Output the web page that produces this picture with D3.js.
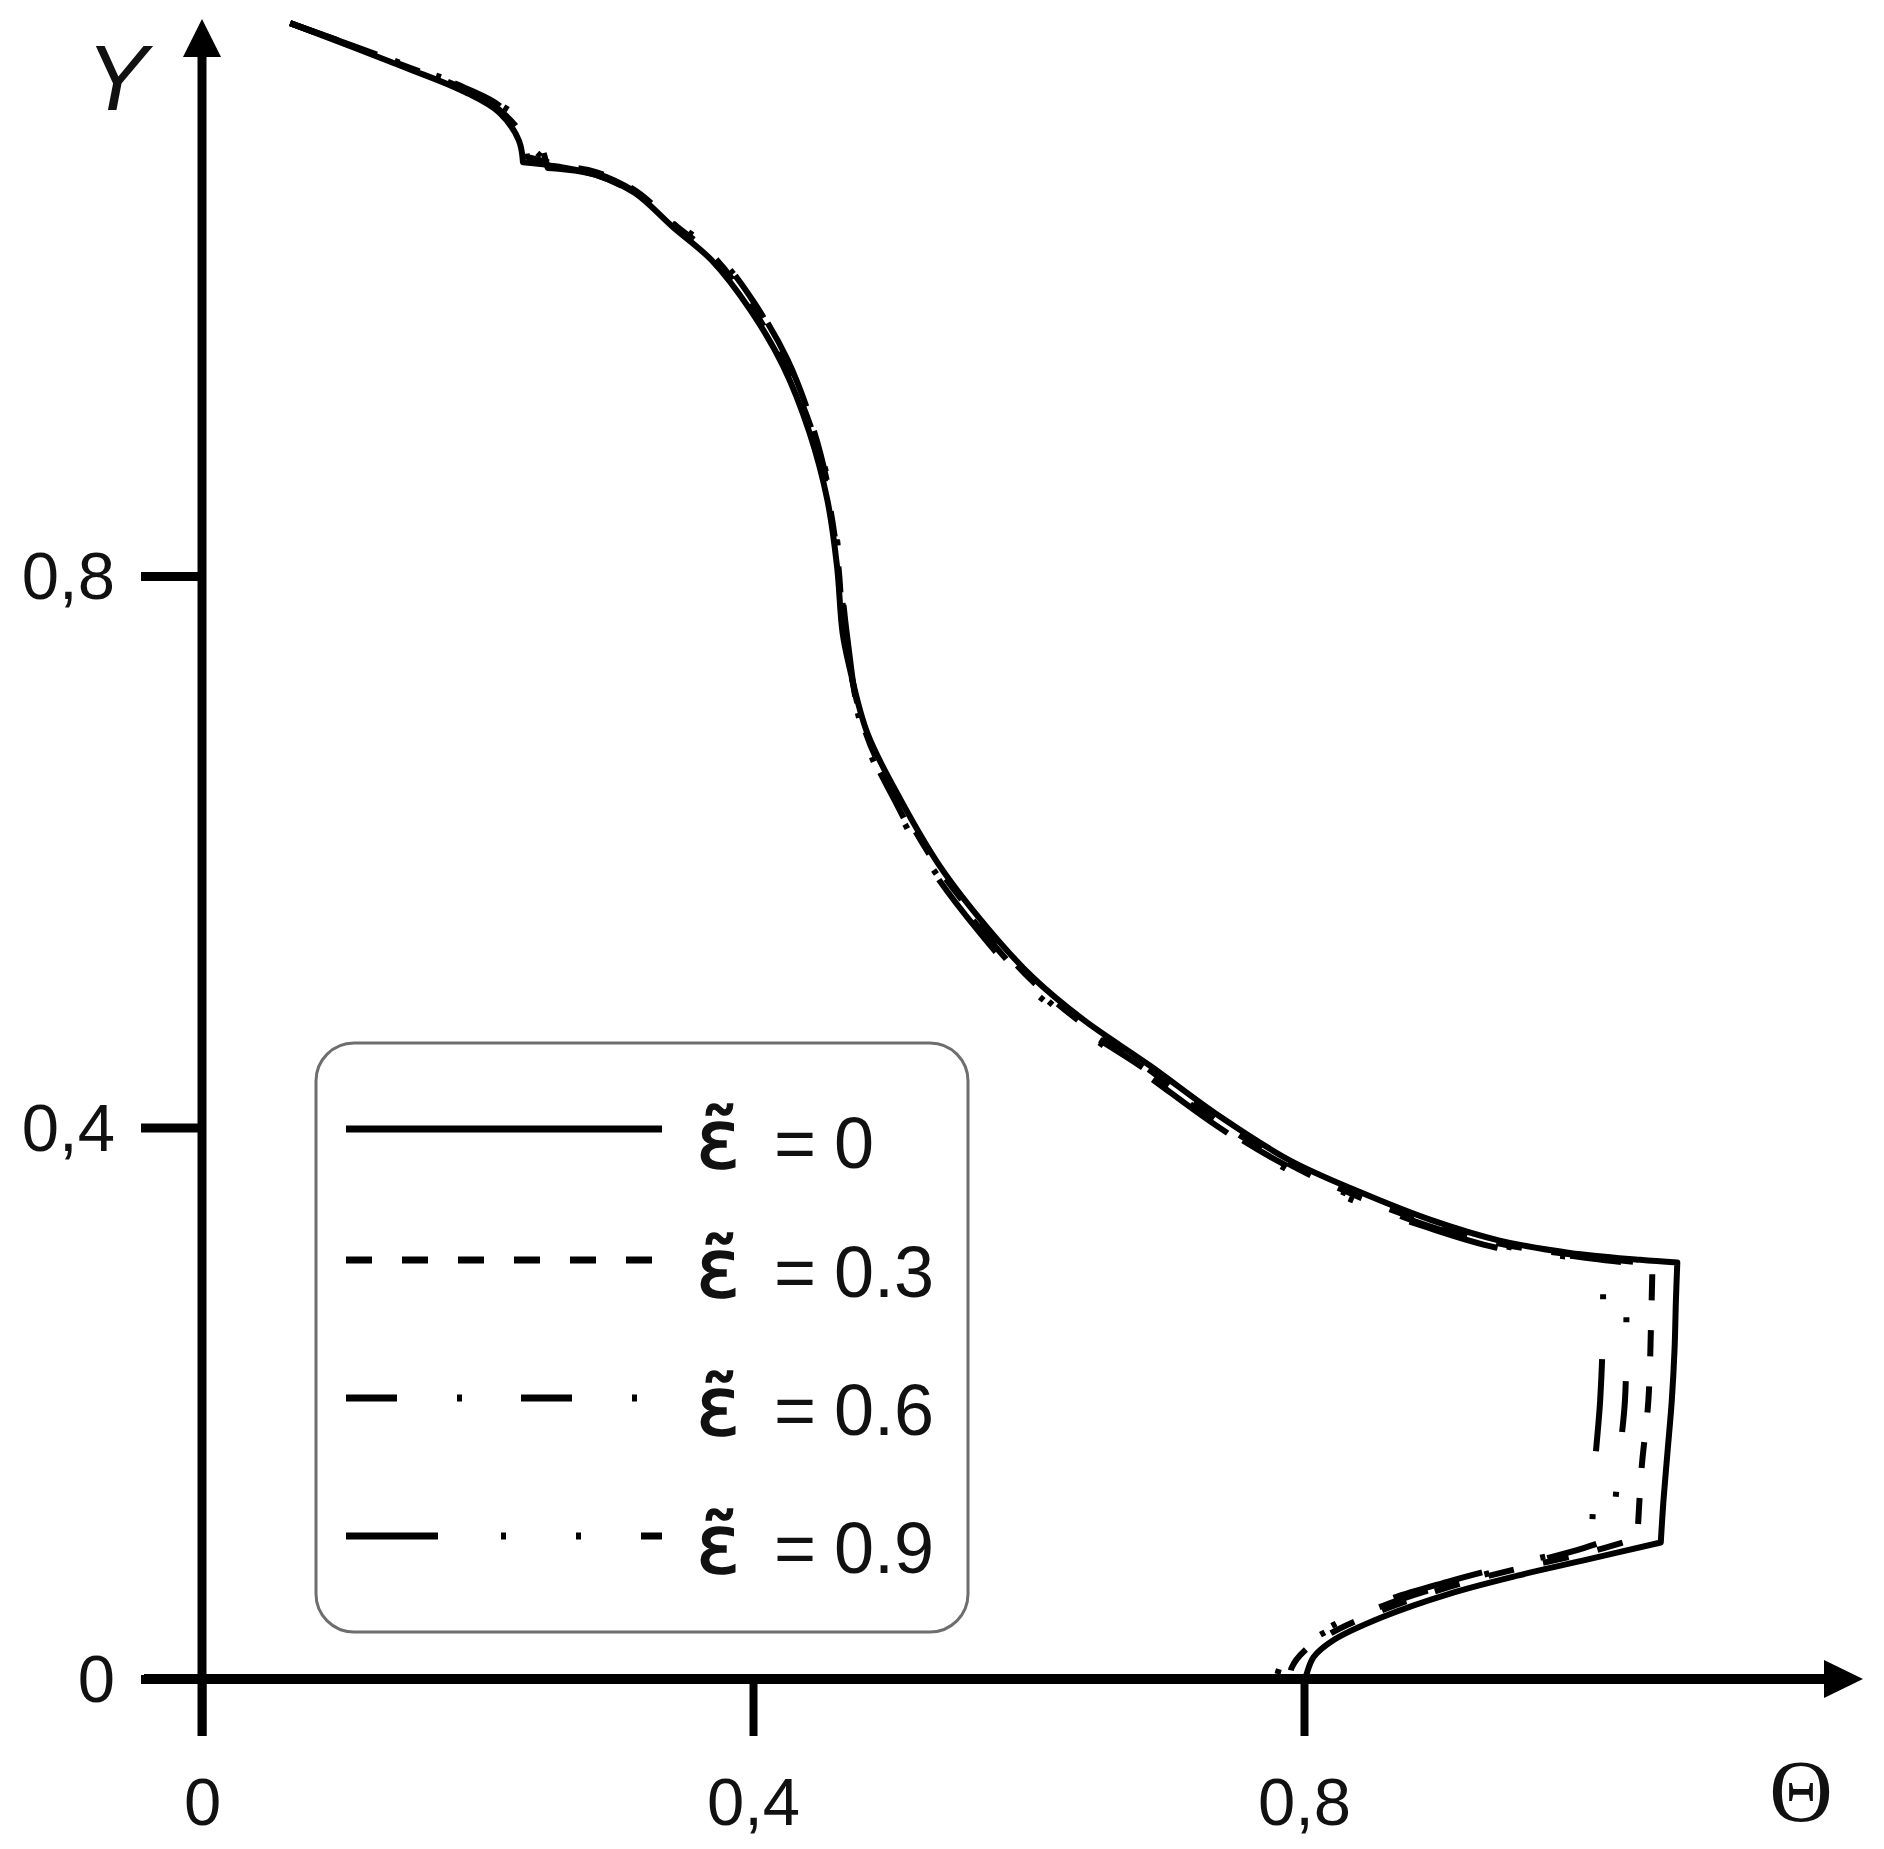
<!DOCTYPE html>
<html><head><meta charset="utf-8">
<script src="https://cdn.jsdelivr.net/npm/d3@7"></script>
<style>body{margin:0;background:#fff}</style>
</head><body>
<svg id="c" width="1884" height="1849"></svg>
<script>
// ---- data ----
const xTicks = [0, 0.4, 0.8];
const xTickLabels = ["0", "0,4", "0,8"];
const yTicks = [0, 0.4, 0.8];
const yTickLabels = ["0", "0,4", "0,8"];
const seriesNames = ["0", "0.3", "0.6", "0.9"];

// [Theta, Y] points
const eps00 = [[0.064,1.201],[0.147,1.169],[0.191,1.151],[0.216,1.136],[0.230,1.116],[0.233,1.100],
 [0.258,1.097],[0.286,1.091],[0.314,1.078],[0.342,1.053],[0.370,1.029],[0.398,0.993],[0.422,0.952],
 [0.441,0.904],[0.454,0.855],[0.461,0.807],[0.465,0.759],[0.470,0.734],[0.483,0.686],[0.507,0.638],
 [0.536,0.589],[0.570,0.545],[0.603,0.509],[0.640,0.478],[0.688,0.445],[0.739,0.408],[0.790,0.376],
 [0.841,0.353],[0.892,0.333],[0.942,0.318],[0.993,0.309],[1.044,0.304],[1.071,0.302],
 [1.070,0.275],[1.069,0.239],[1.067,0.202],[1.064,0.166],[1.061,0.130],[1.059,0.099],
 [1.003,0.086],[0.955,0.075],[0.906,0.062],[0.857,0.045],[0.821,0.028],[0.807,0.016],[0.802,0.004],[0.801,0]];
const corners00 = [5, 32, 38];

const eps03 = [[0.064,1.201],[0.147,1.170],[0.191,1.153],[0.216,1.138],[0.232,1.120],[0.236,1.104],
 [0.260,1.098],[0.286,1.093],[0.314,1.080],[0.343,1.055],[0.372,1.031],[0.399,0.995],[0.423,0.953],
 [0.443,0.905],[0.455,0.855],[0.462,0.807],[0.466,0.759],[0.482,0.686],[0.505,0.638],[0.534,0.589],
 [0.568,0.545],[0.601,0.508],[0.637,0.477],[0.686,0.443],[0.737,0.405],[0.788,0.374],[0.839,0.350],
 [0.890,0.331],[0.941,0.316],[0.993,0.308],[1.053,0.301],
 [1.052,0.260],[1.050,0.202],[1.045,0.152],[1.042,0.102],
 [1.003,0.091],[0.955,0.080],[0.906,0.067],[0.857,0.050],[0.821,0.034],[0.801,0.021],[0.791,0.008],[0.790,0]];
const corners03 = [5, 30, 34];

const eps06 = [[0.064,1.201],[0.147,1.171],[0.191,1.154],[0.216,1.141],[0.227,1.127],[0.240,1.110],
 [0.254,1.097],[0.286,1.092],[0.314,1.079],[0.344,1.056],[0.374,1.033],[0.401,0.998],[0.425,0.955],
 [0.444,0.906],[0.456,0.857],[0.463,0.807],[0.467,0.759],[0.480,0.686],[0.503,0.637],[0.531,0.587],
 [0.566,0.543],[0.599,0.506],[0.635,0.475],[0.685,0.442],[0.735,0.404],[0.786,0.373],[0.838,0.349],
 [0.889,0.329],[0.940,0.315],[0.993,0.307],[1.034,0.302],
 [1.034,0.253],[1.033,0.202],[1.028,0.152],[1.024,0.102],
 [1.003,0.095],[0.955,0.082],[0.906,0.069],[0.857,0.053],[0.821,0.037],[0.797,0.022],[0.786,0.008],[0.785,0]];
const corners06 = [5, 6, 30, 34];

const eps09 = [[0.064,1.201],[0.147,1.171],[0.191,1.155],[0.216,1.142],[0.243,1.125],
 [0.251,1.096],[0.286,1.091],[0.315,1.077],[0.345,1.053],[0.375,1.031],[0.402,0.997],[0.425,0.957],
 [0.444,0.907],[0.457,0.857],[0.463,0.807],[0.468,0.759],[0.480,0.686],[0.502,0.636],[0.530,0.587],
 [0.564,0.542],[0.597,0.505],[0.634,0.474],[0.683,0.440],[0.734,0.403],[0.785,0.371],[0.836,0.347],
 [0.888,0.328],[0.939,0.313],[0.993,0.306],[1.017,0.302],
 [1.017,0.253],[1.015,0.202],[1.011,0.152],[1.009,0.103],
 [1.003,0.097],[0.955,0.084],[0.906,0.071],[0.857,0.056],[0.821,0.039],[0.796,0.025],[0.783,0.010],[0.780,0]];
const corners09 = [4, 5, 29, 33];

// ---- drawing ----
const svg = d3.select("#c");
const x = d3.scaleLinear().domain([0, 0.8]).range([202, 1304]);
const y = d3.scaleLinear().domain([0, 0.8]).range([1679, 576]);

const series = [
  {pts: eps00, corners: corners00, dash: null},
  {pts: eps03, corners: corners03, dash: "26,30"},
  {pts: eps06, corners: corners06, dash: "51,60,5,59"},
  {pts: eps09, corners: corners09, dash: "92,63,5,70,5,60"}
];

// axes lines
const axisG = svg.append("g");
axisG.append("line").attr("x1", 144).attr("x2", 1830).attr("y1", y(0)).attr("y2", y(0))
  .attr("stroke", "#000").attr("stroke-width", 10);
axisG.append("path").attr("d", `M1863,${y(0)} L1824,${y(0)-19} L1824,${y(0)+19} Z`).attr("fill", "#000");
axisG.append("line").attr("x1", x(0)).attr("x2", x(0)).attr("y1", 1736).attr("y2", 52)
  .attr("stroke", "#000").attr("stroke-width", 9);
axisG.append("path").attr("d", `M${x(0)},19 L${x(0)-19},57 L${x(0)+19},57 Z`).attr("fill", "#000");

const xAxis = d3.axisBottom(x).tickValues(xTicks).tickSize(57).tickPadding(41)
  .tickFormat((d, i) => xTickLabels[i]);
const gx = svg.append("g").attr("transform", `translate(0,${y(0)})`).call(xAxis);
gx.select(".domain").remove();
gx.selectAll(".tick line").attr("stroke", "#000").attr("stroke-width", 8);
gx.selectAll(".tick text").attr("font-family", "'Liberation Sans', Arial, sans-serif")
  .attr("font-size", 67).attr("fill", "#111");

const yAxis = d3.axisLeft(y).tickValues(yTicks).tickSize(61).tickPadding(26)
  .tickFormat((d, i) => yTickLabels[i]);
const gy = svg.append("g").attr("transform", `translate(${x(0)},0)`).call(yAxis);
gy.select(".domain").remove();
gy.selectAll(".tick line").attr("stroke", "#000").attr("stroke-width", 9);
gy.selectAll(".tick text").attr("font-family", "'Liberation Sans', Arial, sans-serif")
  .attr("font-size", 67).attr("fill", "#111").attr("dy", "0.34em");

// axis titles
svg.append("text").attr("x", 117).attr("y", 110).attr("text-anchor", "middle")
  .attr("font-family", "'Liberation Sans', Arial, sans-serif").attr("font-style", "italic")
  .attr("font-size", 92).attr("fill", "#111").text("Y");
svg.append("text").attr("x", 1801).attr("y", 1821).attr("text-anchor", "middle")
  .attr("font-family", "'Liberation Serif', 'Times New Roman', serif")
  .attr("font-size", 88).attr("fill", "#111").text("Θ");

// curves
const line = d3.line().x(d => x(d[0])).y(d => y(d[1])).curve(d3.curveCatmullRom.alpha(0.5));
function pathFor(pts, corners) {
  const cuts = [0, ...corners, pts.length - 1];
  let d = "";
  for (let i = 0; i < cuts.length - 1; i++) {
    let s = line(pts.slice(cuts[i], cuts[i + 1] + 1));
    if (i > 0) s = "L" + s.slice(1);
    d += s;
  }
  return d;
}
svg.append("g").selectAll("path").data(series.slice().reverse()).join("path")
  .attr("d", s => pathFor(s.pts, s.corners))
  .attr("fill", "none").attr("stroke", "#000").attr("stroke-width", 6)
  .attr("stroke-linejoin", "round")
  .attr("stroke-dasharray", s => s.dash);

// legend
const lg = svg.append("g");
lg.append("rect").attr("x", 316).attr("y", 1043).attr("width", 652).attr("height", 589)
  .attr("rx", 38).attr("fill", "#fff").attr("stroke", "#6e6e6e").attr("stroke-width", 3);
const rowLineY = [1129, 1260, 1398, 1536];
const rowTextY = [1168, 1297, 1435, 1573];
series.forEach((s, i) => {
  lg.append("line").attr("x1", 346).attr("x2", 662).attr("y1", rowLineY[i]).attr("y2", rowLineY[i])
    .attr("stroke", "#000").attr("stroke-width", 7).attr("stroke-dasharray", s.dash);
  lg.append("text").attr("x", 696).attr("y", rowTextY[i])
    .attr("font-family", "'DejaVu Sans', sans-serif").attr("font-size", 82)
    .attr("fill", "#111").attr("stroke", "#111").attr("stroke-width", 1.5)
    .text("ε\u0303");
  lg.append("text").attr("x", 774).attr("y", rowTextY[i])
    .attr("font-family", "'Liberation Sans', Arial, sans-serif")
    .attr("font-size", 72).attr("fill", "#111").text("=");
  lg.append("text").attr("x", 834).attr("y", rowTextY[i])
    .attr("font-family", "'Liberation Sans', Arial, sans-serif")
    .attr("font-size", 72).attr("fill", "#111").text(seriesNames[i]);
});
</script>
</body></html>
